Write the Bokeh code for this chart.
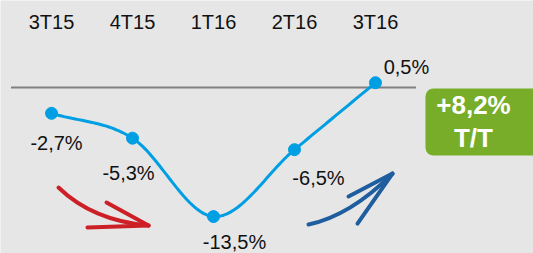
import numpy as np
from bokeh.plotting import figure
from bokeh.models import ColumnDataSource, BoxAnnotation, Range1d
from bokeh.core.properties import value
from bokeh.embed import file_html
from bokeh.resources import INLINE

# ---- data ----
quarters = ["3T15", "4T15", "1T16", "2T16", "3T16"]
growth = [-2.7, -5.3, -13.5, -6.5, 0.5]
growth_labels = ["-2,7%", "-5,3%", "-13,5%", "-6,5%", "0,5%"]
badge_lines = ["+8,2%", "T/T"]

# ---- style ----
BG = "#e6e6e6"
LINE = "#009fe3"
FONT = "Liberation Sans"

xs = np.arange(len(quarters), dtype=float)
ys = np.array(growth, dtype=float)

p = figure(width=533, height=253, output_backend="svg", toolbar_location=None,
           x_range=Range1d(-0.630, 5.951), y_range=Range1d(-17.36, 9.10),
           min_border=0, background_fill_color=BG, border_fill_color=BG)
p.axis.visible = False
p.grid.visible = False
p.outline_line_color = None

# zero line
p.segment(x0=[-0.5], y0=[0], x1=[4.5], y1=[0], line_color="#808080", line_width=2)

# smooth (Catmull-Rom) curve through the data points
P = np.column_stack([xs, ys])
ext = np.vstack([2 * P[0] - P[1], P, 2 * P[-1] - P[-2]])
cx, cy = [], []
for k in range(1, len(ext) - 2):
    p0, p1, p2, p3 = ext[k - 1], ext[k], ext[k + 1], ext[k + 2]
    for t in np.linspace(0, 1, 25):
        pt = 0.5 * ((2 * p1) + (-p0 + p2) * t + (2 * p0 - 5 * p1 + 4 * p2 - p3) * t ** 2
                    + (-p0 + 3 * p1 - 3 * p2 + p3) * t ** 3)
        cx.append(pt[0]); cy.append(pt[1])
p.line(cx, cy, line_color=LINE, line_width=3)

src = ColumnDataSource(dict(x=xs, y=ys, lab=growth_labels, cat=quarters,
                            top=[6.8] * len(quarters),
                            dx=[5, -4, 21, 24, 31], dy=[30, 35, 25, 28, -16]))
p.scatter("x", "y", source=src, size=12, color=LINE)

# category labels at top
p.text("x", "top", text="cat", source=src, text_font=value(FONT), text_font_size="20px",
       text_color="#111111", text_align="center", text_baseline="middle")

# value labels
p.text("x", "y", text="lab", source=src, x_offset="dx", y_offset="dy",
       text_font=value(FONT), text_font_size="20px", text_color="#111111",
       text_align="center", text_baseline="middle")

# decorative arrows
p.quadratic(x0=[0.086], y0=[-10.46], x1=[1.198], y1=[-14.44], cx=[0.506], cy=[-13.91],
            line_color="#cc1f26", line_width=4, line_cap="round")
p.segment(x0=[0.679, 0.444], y0=[-12.03, -14.64], x1=[1.198, 1.198], y1=[-14.44, -14.44],
          line_color="#cc1f26", line_width=4, line_cap="round")
p.quadratic(x0=[3.173], y0=[-14.33], x1=[4.21], y1=[-9.0], cx=[3.69], cy=[-13.39],
            line_color="#1e5d9e", line_width=4, line_cap="round")
p.segment(x0=[3.667, 3.778], y0=[-11.4, -14.23], x1=[4.21, 4.21], y1=[-9.0, -9.0],
          line_color="#1e5d9e", line_width=4, line_cap="round")

# green badge
p.add_layout(BoxAnnotation(left=4.617, right=6.2, top=-0.105, bottom=-7.11,
                           fill_color="#77ad28", fill_alpha=1.0, line_color=None,
                           border_radius=8, level="underlay"))
p.text(x=[5.21, 5.21], y=[-1.78, -5.23], text=badge_lines, text_font=value(FONT),
       text_font_size="26px", text_font_style="bold", text_color="white",
       text_align="center", text_baseline="middle")

open("out.html", "w").write(file_html(p, INLINE))
